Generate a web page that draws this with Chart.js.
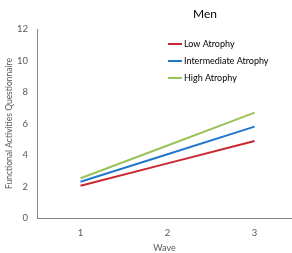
<!DOCTYPE html>
<html>
<head>
<meta charset="utf-8">
<script src="https://cdn.jsdelivr.net/npm/chart.js@4"></script>
<style>
  html, body { margin: 0; padding: 0; background: #fff; }
  #wrap { width: 292px; height: 253px; position: relative; }
</style>
</head>
<body>
<div id="wrap"><canvas id="chart"></canvas></div>
<script>
// data
const waves = [1, 2, 3];
const lowAtrophy = [2.05, 3.47, 4.89];
const intermediateAtrophy = [2.3, 4.05, 5.8];
const highAtrophy = [2.52, 4.6, 6.69];
const seriesNames = ["Low Atrophy", "Intermediate Atrophy", "High Atrophy"];
const seriesColors = ["#C8282D", "#2277CC", "#9BC25A"];
const yTicks = [0, 2, 4, 6, 8, 10, 12];

const FONT = "Lato";
const GREY = "#595959";

function toPoints(vals) {
  return vals.map((v, i) => ({ x: waves[i], y: v }));
}

// title and legend drawn inside the plot
const overlay = {
  id: "overlay",
  afterDraw(chart) {
    const ctx = chart.ctx;
    ctx.save();
    ctx.fillStyle = "#000";
    ctx.font = "12px " + FONT;
    ctx.textAlign = "center";
    ctx.textBaseline = "middle";
    ctx.fillText("Men", 205, 14);

    ctx.font = "9px " + FONT;
    ctx.textAlign = "left";
    chart.data.datasets.forEach((ds, i) => {
      const y = 44 + i * 17;
      ctx.strokeStyle = ds.borderColor;
      ctx.lineWidth = 2;
      ctx.beginPath();
      ctx.moveTo(168, y);
      ctx.lineTo(182, y);
      ctx.stroke();
      ctx.fillStyle = "#000";
      ctx.fillText(ds.label, 184, y + 0.5);
    });
    ctx.restore();
  }
};

const datasets = [lowAtrophy, intermediateAtrophy, highAtrophy].map((vals, i) => ({
  label: seriesNames[i],
  data: toPoints(vals),
  borderColor: seriesColors[i],
  backgroundColor: seriesColors[i],
  borderWidth: 2,
  pointRadius: 0,
  tension: 0
}));

new Chart(document.getElementById("chart"), {
  type: "line",
  data: { datasets: datasets },
  options: {
    responsive: true,
    maintainAspectRatio: false,
    animation: false,
    layout: { padding: { top: 29, right: 0, left: 0, bottom: 0 } },
    plugins: { legend: { display: false }, tooltip: { enabled: false } },
    scales: {
      x: {
        type: "linear",
        min: 0.5,
        max: 3.43,
        afterBuildTicks: (s) => { s.ticks = waves.map((v) => ({ value: v })); },
        afterFit: (s) => { s.height = 35; },
        grid: { display: false, drawTicks: false },
        border: { color: "#868686", width: 1 },
        ticks: { color: GREY, font: { family: FONT, size: 9.5 }, padding: 9 },
        title: { display: true, text: "Wave", color: GREY, font: { family: FONT, size: 9 }, padding: { top: 2, bottom: 0 } }
      },
      y: {
        min: 0,
        max: 12,
        afterBuildTicks: (s) => { s.ticks = yTicks.map((v) => ({ value: v })); },
        afterFit: (s) => { s.width = 37; },
        grid: { display: false, drawTicks: false },
        border: { color: "#868686", width: 1 },
        ticks: { color: GREY, font: { family: FONT, size: 9.5 }, padding: 9 },
        title: { display: true, text: "Functional Activities Questionnaire", color: GREY, font: { family: FONT, size: 8.5 }, padding: { top: 4, bottom: 0 } }
      }
    }
  },
  plugins: [overlay]
});
</script>
</body>
</html>
